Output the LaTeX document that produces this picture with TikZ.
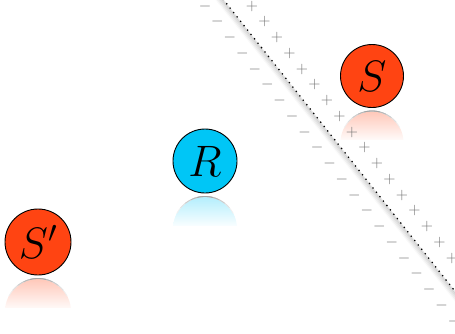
\RequirePackage{fix-cm}
\documentclass[tikz,border=0pt]{standalone}
\usetikzlibrary{calc}
\definecolor{ballred}{RGB}{255,68,18}
\definecolor{ballblue}{RGB}{0,198,246}
% soft mirror image under a ball: #1 node, #2 colour, #3 radius
\newcommand\mirrorball[3]{%
  \begin{scope}
    \clip ($(#1.south)+(-#3-3,-2)$) rectangle ($(#1.south)+(#3+3,-32)$);
    \coordinate (#1-m) at ($(#1.south)+(0,-3-#3)$);
    \shade[top color=#2!30, bottom color=white, middle color=white] (#1-m) circle (#3);
    \foreach \a/\g in {62/6,50/12,38/20,26/28,14/36}
      \draw[black!\g, line width=0.8pt] ($(#1-m)+({90-\a}:#3)$) arc[start angle=90-\a, end angle=90+\a, radius=#3];
  \end{scope}}
\begin{document}
\begin{tikzpicture}[x=1pt,y=1pt,
  ball/.style={circle, draw=black, line width=0.9pt, inner sep=0pt, font=\fontsize{44}{46}\selectfont},
  charge/.style={text=black!55, inner sep=0pt, font=\fontsize{16}{16}\selectfont}]
\useasboundingbox (0,0) rectangle (455,-333);

% the three balls
\node[ball, fill=ballred, minimum size=63pt] (S) at (372,-76) {$S$};
\node[ball, fill=ballblue, minimum size=64pt] (R) at (205,-161) {$R$};
\node[ball, fill=ballred, minimum size=66pt] (Sp) at (38,-242) {$S'$};

\mirrorball{S}{ballred}{31.5}
\mirrorball{R}{ballblue}{32}
\mirrorball{Sp}{ballred}{33}

% boundary with its soft shadow
\coordinate (wa) at (219.7,5);
\coordinate (wb) at (497.7,-345);
\foreach \d/\o in {1/0.10,2.5/0.08,4/0.06,5.5/0.04,7/0.02}
  \draw[black, opacity=\o, line width=2pt] ($(wa)+(-\d,0)$) -- ($(wb)+(-\d,0)$);
\draw[line width=1.8pt, line cap=round, dash pattern=on 0pt off 5.6pt] (wa) -- (wb);

% surface charges on both sides
\foreach \k in {0,...,20}
  \node[charge] (m\k) at (205+12.45*\k, -6-15.75*\k) {$-$};
\foreach \k in {0,...,16}
  \node[charge] (p\k) at (252+12.5*\k, -6-15.75*\k) {$+$};
\end{tikzpicture}
\end{document}
